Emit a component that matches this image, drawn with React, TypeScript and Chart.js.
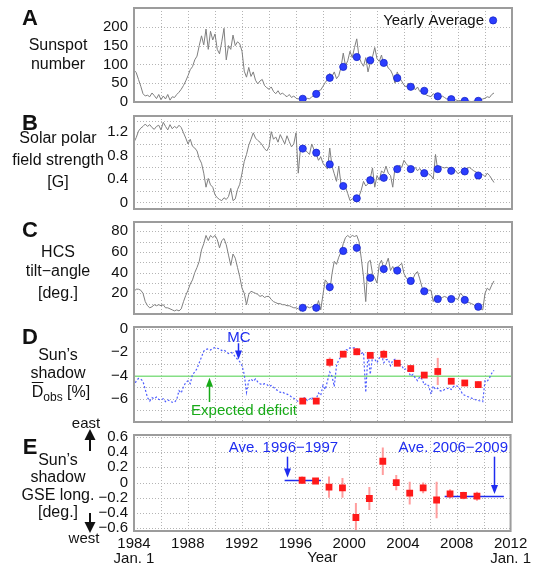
import React, { useEffect, useRef } from 'react';
import { Chart, registerables } from 'chart.js';

Chart.register(...registerables);

const FONT = '"Liberation Sans", Arial, Helvetica, sans-serif';
const INK = '#111111';
const GRID = '#b4b4b4';
const FRAME = '#9c9c9c';
const TRACE = '#7f7f7f';
const DOT_BLUE = '#2b3dff';
const DOT_EDGE = '#1626c8';
const NOTE_BLUE = '#1e2cf0';
const SHADOW_BLUE = '#4d5cff';
const SQUARE_RED = '#ff1a1a';
const ERR_RED = '#ff9e9e';
const DEFICIT_GREEN = '#86df86';
const NOTE_GREEN = '#18aa18';

// Two-monthly samples, first one at January 1984
const SERIES_START = 1984;
const SERIES_STEP = 1 / 6;

const YEAR_GRID = [1984, 1986, 1988, 1990, 1992, 1994, 1996, 1998, 2000, 2002, 2004, 2006, 2008, 2010, 2012];
const YEAR_LABELS = [1984, 1988, 1992, 1996, 2000, 2004, 2008, 2012];
const DATED_YEARS = [1984, 2012];
const YEARLY_X = [1996.5, 1997.5, 1998.5, 1999.5, 2000.5, 2001.5, 2002.5, 2003.5, 2004.5, 2005.5, 2006.5, 2007.5, 2008.5, 2009.5];

// A: sunspot number
const SUNSPOT = [
  85, 78, 60, 42, 22, 16,
  18, 14, 24, 17, 9, 20,
  6, 16, 8, 20, 5, 14,
  12, 20, 26, 34, 44, 56,
  70, 86, 94, 112, 122, 150,
  176, 152, 194, 140, 188, 165,
  181, 140, 128, 160, 196, 112,
  150, 140, 178, 150, 160, 155,
  135, 82, 66, 92, 68, 80,
  58, 48, 56, 60, 44, 38,
  34, 40, 28, 22, 30, 20,
  24, 18, 14, 20, 12, 16,
  10, 8, 12, 6, 4, 10,
  8, 14, 18, 26, 30, 32,
  42, 52, 60, 76, 68, 80,
  62, 70, 92, 130, 96, 110,
  135, 118, 145, 168, 120, 105,
  95, 118, 80, 105, 120, 145,
  115, 108, 125, 98, 105, 90,
  85, 72, 50, 80, 65, 55,
  45, 40, 50, 38, 48, 32,
  40, 28, 30, 24, 18, 16,
  14, 22, 18, 12, 10, 16,
  12, 8, 10, 5, 4, 6,
  3, 4, 2, 1, 3, 2,
  1, 2, 3, 4, 6, 8,
  10, 14, 12, 20, 24,
];
const SUNSPOT_YEARLY = [8.6, 21.5, 64.3, 93.3, 119.6, 111.0, 104.0, 63.7, 40.4, 29.8, 15.2, 7.5, 2.9, 3.1];

// B: solar polar field strength [G]
const POLAR_FIELD = [
  1.03, 1.11, 1.22, 1.27, 1.30, 1.34,
  1.30, 1.33, 1.28, 1.25, 1.30, 1.32,
  1.24, 1.37, 1.30, 1.24, 1.33, 1.26,
  1.30, 1.27, 1.32, 1.28, 1.19, 1.10,
  1.00, 1.08, 0.96, 0.93, 0.88, 0.75,
  0.67, 0.50, 0.26, 0.41, 0.30, 0.26,
  0.13, 0.08, 0.05, 0.03, 0.08, 0.05,
  0.10, 0.24, 0.03, 0.06, 0.22, 0.31,
  0.50, 0.70, 0.82, 0.98, 1.08, 1.19,
  1.10, 1.06, 1.03, 0.98, 0.92, 0.88,
  0.95, 1.21, 1.08, 1.12, 1.03, 1.16,
  1.08, 1.00, 1.14, 1.04, 0.95, 1.00,
  1.19, 0.50, 0.93, 0.92, 0.90, 0.86,
  0.82, 1.00, 0.90, 0.82, 0.72, 0.78,
  0.67, 0.62, 0.57, 0.93, 0.62, 0.49,
  0.36, 0.62, 0.31, 0.28, 0.26, 0.15,
  0.03, 0.06, 0.03, 0.05, 0.10, 0.21,
  0.36, 0.28, 0.32, 0.41, 0.59, 0.26,
  0.46, 0.38, 0.54, 0.50, 0.62, 0.50,
  0.46, 0.26, 0.60, 0.57, 0.64, 0.60,
  0.72, 0.66, 0.62, 0.59, 0.57, 0.60,
  0.54, 0.58, 0.52, 0.54, 0.52, 0.48,
  0.46, 0.40, 0.82, 0.55, 0.62, 0.60,
  0.59, 0.60, 0.58, 0.60, 0.57, 0.54,
  0.49, 0.52, 0.50, 0.57, 0.58, 0.60,
  0.57, 0.54, 0.52, 0.50, 0.46, 0.48,
  0.44, 0.50, 0.46, 0.40, 0.34,
];
const POLAR_FIELD_YEARLY = [0.92, 0.85, 0.65, 0.28, 0.07, 0.38, 0.42, 0.57, 0.57, 0.50, 0.57, 0.54, 0.53, 0.46];

// C: heliospheric current sheet tilt angle [deg.]
const TILT_ANGLE = [
  22, 24, 24, 23, 20, 12,
  8, 6, 7, 9, 8, 9,
  8, 9, 6, 6, 5, 4,
  3, 4, 3, 5, 12, 18,
  23, 29, 33, 40, 45, 51,
  62, 68, 76, 71, 76, 74,
  76, 72, 64, 71, 73, 67,
  57, 47, 58, 54, 45, 36,
  25, 20, 9, 19, 22, 21,
  20, 19, 17, 18, 16, 17,
  17, 14, 12, 11, 10, 10,
  9, 9, 8, 8, 7, 6,
  6, 5, 3, 4, 6, 7,
  6, 7, 8, 6, 13, 4,
  19, 33, 30, 22, 39, 51,
  48, 55, 60, 68, 74, 76,
  74, 76, 75, 76, 70, 54,
  36, 12, 50, 52, 39, 35,
  30, 48, 52, 44, 48, 54,
  42, 46, 41, 45, 47, 49,
  39, 35, 32, 30, 34, 39,
  41, 34, 26, 22, 24, 23,
  23, 12, 18, 16, 15, 16,
  17, 16, 14, 15, 14, 15,
  14, 20, 18, 16, 12, 11,
  10, 9, 7, 6, 5, 4,
  20, 25, 23, 28, 32,
];
const TILT_ANGLE_YEARLY = [6, 6, 26, 61, 64, 35, 43.5, 42, 32, 22, 14.5, 14.5, 13.6, 7];

// D: Sun's shadow deficit [%]
const SHADOW_DEFICIT = [
  -4.95, -4.45, -4.25, -4.3, -4.5, -5.2,
  -5.9, -6.2, -5.9, -6.0, -5.85, -6.05,
  -6.1, -6.0, -6.25, -6.1, -6.2, -6.3,
  -6.3, -6.05, -5.3, -5.5, -4.95, -4.6,
  -4.45, -4.7, -3.9, -3.7, -3.4, -2.9,
  -2.4, -1.9, -1.75, -1.7, -1.8, -1.65,
  -1.6, -1.65, -1.7, -1.85, -1.8, -1.95,
  -2.1, -2.0, -2.1, -2.4, -2.6, -2.8,
  -3.15, -3.9, -5.45, -4.45, -4.3, -4.5,
  -4.3, -4.55, -4.7, -4.8, -4.7, -4.75,
  -4.95, -4.85, -5.0, -5.2, -5.3, -5.45,
  -5.4, -5.55, -5.6, -5.7, -5.85, -5.95,
  -6.1, -6.25, -6.15, -6.0, -5.9, -6.15,
  -6.05, -5.85, -6.35, -6.0, -5.5, -5.7,
  -4.85, -5.2, -4.45, -3.7, -4.05, -4.95,
  -3.15, -2.65, -2.4, -2.1, -1.75, -1.8,
  -1.6, -1.65, -1.6, -1.75, -1.7, -2.1,
  -2.0, -5.45, -2.1, -3.9, -2.4, -2.6,
  -2.9, -2.5, -2.25, -2.9, -2.65, -2.6,
  -3.15, -2.7, -2.6, -2.9, -3.0, -3.15,
  -3.5, -3.4, -3.65, -4.05, -3.9, -4.2,
  -4.45, -4.1, -4.3, -4.8, -4.7, -4.9,
  -5.6, -4.9, -5.2, -5.1, -5.3, -5.35,
  -5.2, -5.15, -5.05, -5.2, -4.95, -4.85,
  -4.95, -5.2, -5.6, -5.7, -5.8, -5.85,
  -5.95, -6.0, -6.1, -6.15, -6.2, -6.25,
  -4.45, -4.5, -4.2, -3.8, -3.55,
];
const SHADOW_DEFICIT_YEARLY = [-6.2, -6.2, -2.86, -2.16, -1.95, -2.26, -2.17, -2.94, -3.4, -3.96, -3.65, -4.49, -4.64, -4.78];
const SHADOW_DEFICIT_ERR = [0.2, 0.2, 0.42, 0.25, 0.3, 0.25, 0.38, 0.2, 0.3, 0.2, 1.17, 0.2, 0.2, 0.3];
const EXPECTED_DEFICIT = -4.05;

// E: Sun's shadow GSE longitude [deg.]
const SHADOW_LONG = [0.03, 0.02, -0.06, -0.07, -0.46, -0.21, 0.28, 0.0, -0.14, -0.07, -0.23, -0.15, -0.17, -0.18];
const SHADOW_LONG_ERR = [0.05, 0.03, 0.14, 0.13, 0.19, 0.15, 0.18, 0.1, 0.15, 0.07, 0.24, 0.06, 0.05, 0.06];
const AVE_EARLY_SPAN = [1995.2, 1997.9];
const AVE_LATE_SPAN = [2007.1, 2011.5];

// Page geometry
const W = 536;
const H = 563;
const PLOT_LEFT = 134;
const PLOT_RIGHT = 512;
const PAD = 10;

type Note =
  | { kind: 'text'; x: number; y: number; text: string; color: string; align?: CanvasTextAlign }
  | { kind: 'arrow'; x: number; from: number; to: number; color: string }
  | { kind: 'dot'; x: number; y: number };

type PanelSpec = {
  id: string;
  top: number;
  bottom: number;
  yMin: number;
  yMax: number;
  yGrid: number[];
  yLabels: number[];
  datasets: any[];
  notes: Note[];
  bottomAxis?: boolean;
};

const series = (values: number[]) => values.map((y, i) => ({ x: SERIES_START + i * SERIES_STEP, y }));
const yearly = (values: number[]) => values.map((y, i) => ({ x: YEARLY_X[i], y }));
const mean = (values: number[]) => values.reduce((s, v) => s + v, 0) / values.length;
const fmt = (v: number) => String(Math.round(v * 100) / 100).replace('-', '\u2212');
const hasValue = (list: number[], v: number) => list.some((l) => Math.abs(l - v) < 1e-9);

const traceSet = (values: number[]) => ({
  data: series(values),
  borderColor: TRACE,
  borderWidth: 1,
  pointRadius: 0,
  tension: 0,
  order: 2,
});

const dotSet = (values: number[]) => ({
  data: yearly(values),
  showLine: false,
  pointRadius: 3.6,
  pointBackgroundColor: DOT_BLUE,
  pointBorderColor: DOT_EDGE,
  pointBorderWidth: 0.8,
  order: 0,
});

const squareSet = (values: number[], errors: number[]) => ({
  data: yearly(values),
  showLine: false,
  pointStyle: 'rect',
  pointRadius: 4.8,
  pointBackgroundColor: SQUARE_RED,
  pointBorderWidth: 0,
  errors,
  errorColor: ERR_RED,
  order: 0,
});

const flatSet = (x0: number, x1: number, y: number, color: string, width: number, order: number) => ({
  data: [
    { x: x0, y },
    { x: x1, y },
  ],
  borderColor: color,
  borderWidth: width,
  pointRadius: 0,
  order,
});

const aveEarly = mean(SHADOW_LONG.slice(0, 2));
const aveLate = mean(SHADOW_LONG.slice(-4));

const PANELS: PanelSpec[] = [
  {
    id: 'A',
    top: 3,
    bottom: 107,
    yMin: 0,
    yMax: 250,
    yGrid: [0, 50, 100, 150, 200, 250],
    yLabels: [0, 50, 100, 150, 200],
    datasets: [dotSet(SUNSPOT_YEARLY), traceSet(SUNSPOT)],
    notes: [
      { kind: 'text', x: 2009.93, y: 215, text: 'Yearly Average', color: INK, align: 'right' },
      { kind: 'dot', x: 2010.6, y: 217 },
    ],
  },
  {
    id: 'B',
    top: 111,
    bottom: 214,
    yMin: -0.113,
    yMax: 1.478,
    yGrid: [0, 0.2, 0.4, 0.6, 0.8, 1.0, 1.2, 1.4],
    yLabels: [0, 0.4, 0.8, 1.2],
    datasets: [dotSet(POLAR_FIELD_YEARLY), traceSet(POLAR_FIELD)],
    notes: [],
  },
  {
    id: 'C',
    top: 217,
    bottom: 319,
    yMin: 0,
    yMax: 89,
    yGrid: [0, 10, 20, 30, 40, 50, 60, 70, 80],
    yLabels: [20, 40, 60, 80],
    datasets: [dotSet(TILT_ANGLE_YEARLY), traceSet(TILT_ANGLE)],
    notes: [],
  },
  {
    id: 'D',
    top: 322,
    bottom: 427,
    yMin: -8,
    yMax: 0.18,
    yGrid: [-8, -7, -6, -5, -4, -3, -2, -1, 0],
    yLabels: [-6, -4, -2, 0],
    datasets: [
      squareSet(SHADOW_DEFICIT_YEARLY, SHADOW_DEFICIT_ERR),
      {
        data: series(SHADOW_DEFICIT),
        borderColor: SHADOW_BLUE,
        borderWidth: 1.2,
        borderDash: [2, 2],
        pointRadius: 0,
        tension: 0,
        order: 1,
      },
      flatSet(1984, 2012, EXPECTED_DEFICIT, DEFICIT_GREEN, 1.5, 2),
    ],
    notes: [
      { kind: 'text', x: 1991.78, y: -0.76, text: 'MC', color: NOTE_BLUE },
      { kind: 'arrow', x: 1991.7, from: -1.22, to: -2.62, color: NOTE_BLUE },
      { kind: 'text', x: 1992.15, y: -7.06, text: 'Expected deficit', color: NOTE_GREEN },
      { kind: 'arrow', x: 1989.56, from: -6.28, to: -4.18, color: NOTE_GREEN },
    ],
  },
  {
    id: 'E',
    top: 430,
    bottom: 531,
    yMin: -0.6375,
    yMax: 0.625,
    yGrid: [-0.6, -0.4, -0.2, 0, 0.2, 0.4, 0.6],
    yLabels: [-0.6, -0.4, -0.2, 0, 0.2, 0.4, 0.6],
    bottomAxis: true,
    datasets: [
      squareSet(SHADOW_LONG, SHADOW_LONG_ERR),
      flatSet(AVE_EARLY_SPAN[0], AVE_EARLY_SPAN[1], aveEarly, NOTE_BLUE, 1.5, 1),
      flatSet(AVE_LATE_SPAN[0], AVE_LATE_SPAN[1], aveLate, NOTE_BLUE, 1.5, 1),
    ],
    notes: [
      { kind: 'text', x: 1995.11, y: 0.45, text: 'Ave. 1996\u22121997', color: NOTE_BLUE },
      { kind: 'arrow', x: 1995.4, from: 0.34, to: aveEarly + 0.04, color: NOTE_BLUE },
      { kind: 'text', x: 2007.74, y: 0.45, text: 'Ave. 2006\u22122009', color: NOTE_BLUE },
      { kind: 'arrow', x: 2010.74, from: 0.34, to: aveLate + 0.03, color: NOTE_BLUE },
    ],
  },
];

function makeDecor(yGrid: number[], notes: Note[]) {
  return {
    id: 'panelDecor',
    beforeDatasetsDraw(chart: any) {
      const { ctx, chartArea: a } = chart;
      const xs = chart.scales.x;
      const ys = chart.scales.y;
      ctx.save();
      ctx.beginPath();
      ctx.rect(a.left, a.top, a.right - a.left, a.bottom - a.top);
      ctx.clip();
      // dotted grid
      ctx.strokeStyle = GRID;
      ctx.lineWidth = 1;
      ctx.setLineDash([1, 2]);
      ctx.beginPath();
      YEAR_GRID.forEach((v) => {
        const px = Math.round(xs.getPixelForValue(v)) + 0.5;
        ctx.moveTo(px, a.top);
        ctx.lineTo(px, a.bottom);
      });
      yGrid.forEach((v) => {
        const py = Math.round(ys.getPixelForValue(v)) + 0.5;
        ctx.moveTo(a.left, py);
        ctx.lineTo(a.right, py);
      });
      ctx.stroke();
      ctx.setLineDash([]);
      // error bars under the markers
      chart.data.datasets.forEach((ds: any) => {
        if (!ds.errors) return;
        ctx.strokeStyle = ds.errorColor;
        ctx.lineWidth = 2;
        ds.data.forEach((pt: any, j: number) => {
          const e = ds.errors[j];
          const px = xs.getPixelForValue(pt.x);
          ctx.beginPath();
          ctx.moveTo(px, ys.getPixelForValue(pt.y + e));
          ctx.lineTo(px, ys.getPixelForValue(pt.y - e));
          ctx.stroke();
        });
      });
      ctx.restore();
    },
    afterDatasetsDraw(chart: any) {
      const { ctx, chartArea: a } = chart;
      const xs = chart.scales.x;
      const ys = chart.scales.y;
      ctx.save();
      ctx.strokeStyle = FRAME;
      ctx.lineWidth = 2;
      ctx.strokeRect(a.left, a.top, a.right - a.left, a.bottom - a.top);
      notes.forEach((n) => {
        if (n.kind === 'text') {
          ctx.font = `15px ${FONT}`;
          ctx.fillStyle = n.color;
          ctx.textAlign = n.align ?? 'center';
          ctx.textBaseline = 'middle';
          ctx.fillText(n.text, xs.getPixelForValue(n.x), ys.getPixelForValue(n.y));
        } else if (n.kind === 'arrow') {
          const px = Math.round(xs.getPixelForValue(n.x)) + 0.5;
          const y1 = ys.getPixelForValue(n.from);
          const y2 = ys.getPixelForValue(n.to);
          const dir = Math.sign(y2 - y1);
          ctx.strokeStyle = n.color;
          ctx.fillStyle = n.color;
          ctx.lineWidth = 1.5;
          ctx.beginPath();
          ctx.moveTo(px, y1);
          ctx.lineTo(px, y2 - dir * 7);
          ctx.stroke();
          ctx.beginPath();
          ctx.moveTo(px, y2);
          ctx.lineTo(px - 3.5, y2 - dir * 9);
          ctx.lineTo(px + 3.5, y2 - dir * 9);
          ctx.closePath();
          ctx.fill();
        } else {
          ctx.beginPath();
          ctx.arc(xs.getPixelForValue(n.x), ys.getPixelForValue(n.y), 3.6, 0, Math.PI * 2);
          ctx.fillStyle = DOT_BLUE;
          ctx.fill();
          ctx.lineWidth = 0.8;
          ctx.strokeStyle = DOT_EDGE;
          ctx.stroke();
        }
      });
      ctx.restore();
    },
  };
}

const canvasTop = (p: PanelSpec) => p.top - PAD;
const canvasHeight = (p: PanelSpec) => (p.bottomAxis ? H + PAD - canvasTop(p) : p.bottom - p.top + 2 * PAD);

function buildConfig(p: PanelSpec): any {
  const bottom = !!p.bottomAxis;
  const axisHeight = bottom ? H + PAD - p.bottom : 0;
  return {
    type: 'line',
    data: { datasets: p.datasets },
    options: {
      animation: false,
      responsive: false,
      maintainAspectRatio: false,
      events: [],
      layout: { padding: { top: PAD, bottom: bottom ? 0 : PAD, left: 0, right: W - PLOT_RIGHT } },
      plugins: { legend: { display: false }, tooltip: { enabled: false }, title: { display: false } },
      scales: {
        x: {
          type: 'linear',
          min: 1984,
          max: 2012,
          bounds: 'data',
          display: bottom,
          afterBuildTicks: (s: any) => {
            s.ticks = YEAR_LABELS.map((v) => ({ value: v }));
          },
          afterFit: (s: any) => {
            s.height = axisHeight;
          },
          grid: { display: false, drawTicks: false },
          border: { display: false },
          ticks: {
            autoSkip: false,
            maxRotation: 0,
            padding: 5,
            color: INK,
            font: { family: FONT, size: 15, lineHeight: 1 },
            callback: (v: number) => (DATED_YEARS.includes(v) ? [String(v), 'Jan. 1'] : String(v)),
          },
          title: {
            display: bottom,
            text: 'Year',
            color: INK,
            font: { family: FONT, size: 15, lineHeight: 1 },
            padding: { top: 0, bottom: 7.5 },
          },
        },
        y: {
          type: 'linear',
          min: p.yMin,
          max: p.yMax,
          bounds: 'data',
          afterBuildTicks: (s: any) => {
            s.ticks = p.yGrid.map((v) => ({ value: v }));
          },
          afterFit: (s: any) => {
            s.width = PLOT_LEFT;
          },
          grid: { display: false, drawTicks: false },
          border: { display: false },
          ticks: {
            autoSkip: false,
            padding: 6,
            color: INK,
            font: { family: FONT, size: 15 },
            callback: (v: number) => (hasValue(p.yLabels, v) ? fmt(v) : ''),
          },
        },
      },
    },
    plugins: [makeDecor(p.yGrid, p.notes)],
  };
}

function Side({ y, cx = 58, size = 16, bold = false, children }: { y: number; cx?: number; size?: number; bold?: boolean; children: React.ReactNode }) {
  return (
    <div
      style={{
        position: 'absolute',
        left: cx - 70,
        width: 140,
        top: y - 10,
        height: 20,
        lineHeight: '20px',
        textAlign: 'center',
        fontFamily: FONT,
        fontSize: size,
        fontWeight: bold ? 'bold' : 'normal',
        color: INK,
        whiteSpace: 'nowrap',
      }}
    >
      {children}
    </div>
  );
}

function Letter({ y, children }: { y: number; children: React.ReactNode }) {
  return (
    <Side y={y} cx={30} size={22} bold>
      {children}
    </Side>
  );
}

export default function App() {
  const refs = useRef<(HTMLCanvasElement | null)[]>([]);

  useEffect(() => {
    const charts = PANELS.map((p, i) => new Chart(refs.current[i] as HTMLCanvasElement, buildConfig(p)));
    return () => charts.forEach((c) => c.destroy());
  }, []);

  return (
    <div style={{ position: 'fixed', left: 0, top: 0, width: W, height: H, overflow: 'hidden', background: '#ffffff' }}>
      {PANELS.map((p, i) => {
        const h = canvasHeight(p);
        return (
          <canvas
            key={p.id}
            ref={(el) => {
              refs.current[i] = el;
            }}
            width={W}
            height={h}
            style={{ position: 'absolute', left: 0, top: canvasTop(p), width: W, height: h }}
          />
        );
      })}

      <Letter y={18}>A</Letter>
      <Side y={45}>Sunspot</Side>
      <Side y={64}>number</Side>

      <Letter y={123}>B</Letter>
      <Side y={138}>Solar polar</Side>
      <Side y={160}>field strength</Side>
      <Side y={182}>[G]</Side>

      <Letter y={230}>C</Letter>
      <Side y={252}>HCS</Side>
      <Side y={271}>tilt{'\u2212'}angle</Side>
      <Side y={293}>[deg.]</Side>

      <Letter y={337}>D</Letter>
      <Side y={355}>Sun{'\u2019'}s</Side>
      <Side y={373}>shadow</Side>
      <Side y={392} cx={61}>
        <span style={{ textDecoration: 'overline' }}>D</span>
        <span style={{ fontSize: 12, position: 'relative', top: 4 }}>obs</span> [%]
      </Side>

      <Side y={423} cx={86} size={15}>east</Side>
      <Letter y={447}>E</Letter>
      <Side y={460}>Sun{'\u2019'}s</Side>
      <Side y={477}>shadow</Side>
      <Side y={495}>GSE long.</Side>
      <Side y={512}>[deg.]</Side>
      <Side y={538} cx={84} size={15}>west</Side>

      <svg width={W} height={H} style={{ position: 'absolute', left: 0, top: 0, pointerEvents: 'none' }}>
        <line x1={90} y1={451} x2={90} y2={438} stroke={INK} strokeWidth={2} />
        <polygon points="84.5,440 95.5,440 90,429" fill={INK} />
        <line x1={90} y1={513} x2={90} y2={524} stroke={INK} strokeWidth={2} />
        <polygon points="84.5,522 95.5,522 90,533" fill={INK} />
      </svg>
    </div>
  );
}
